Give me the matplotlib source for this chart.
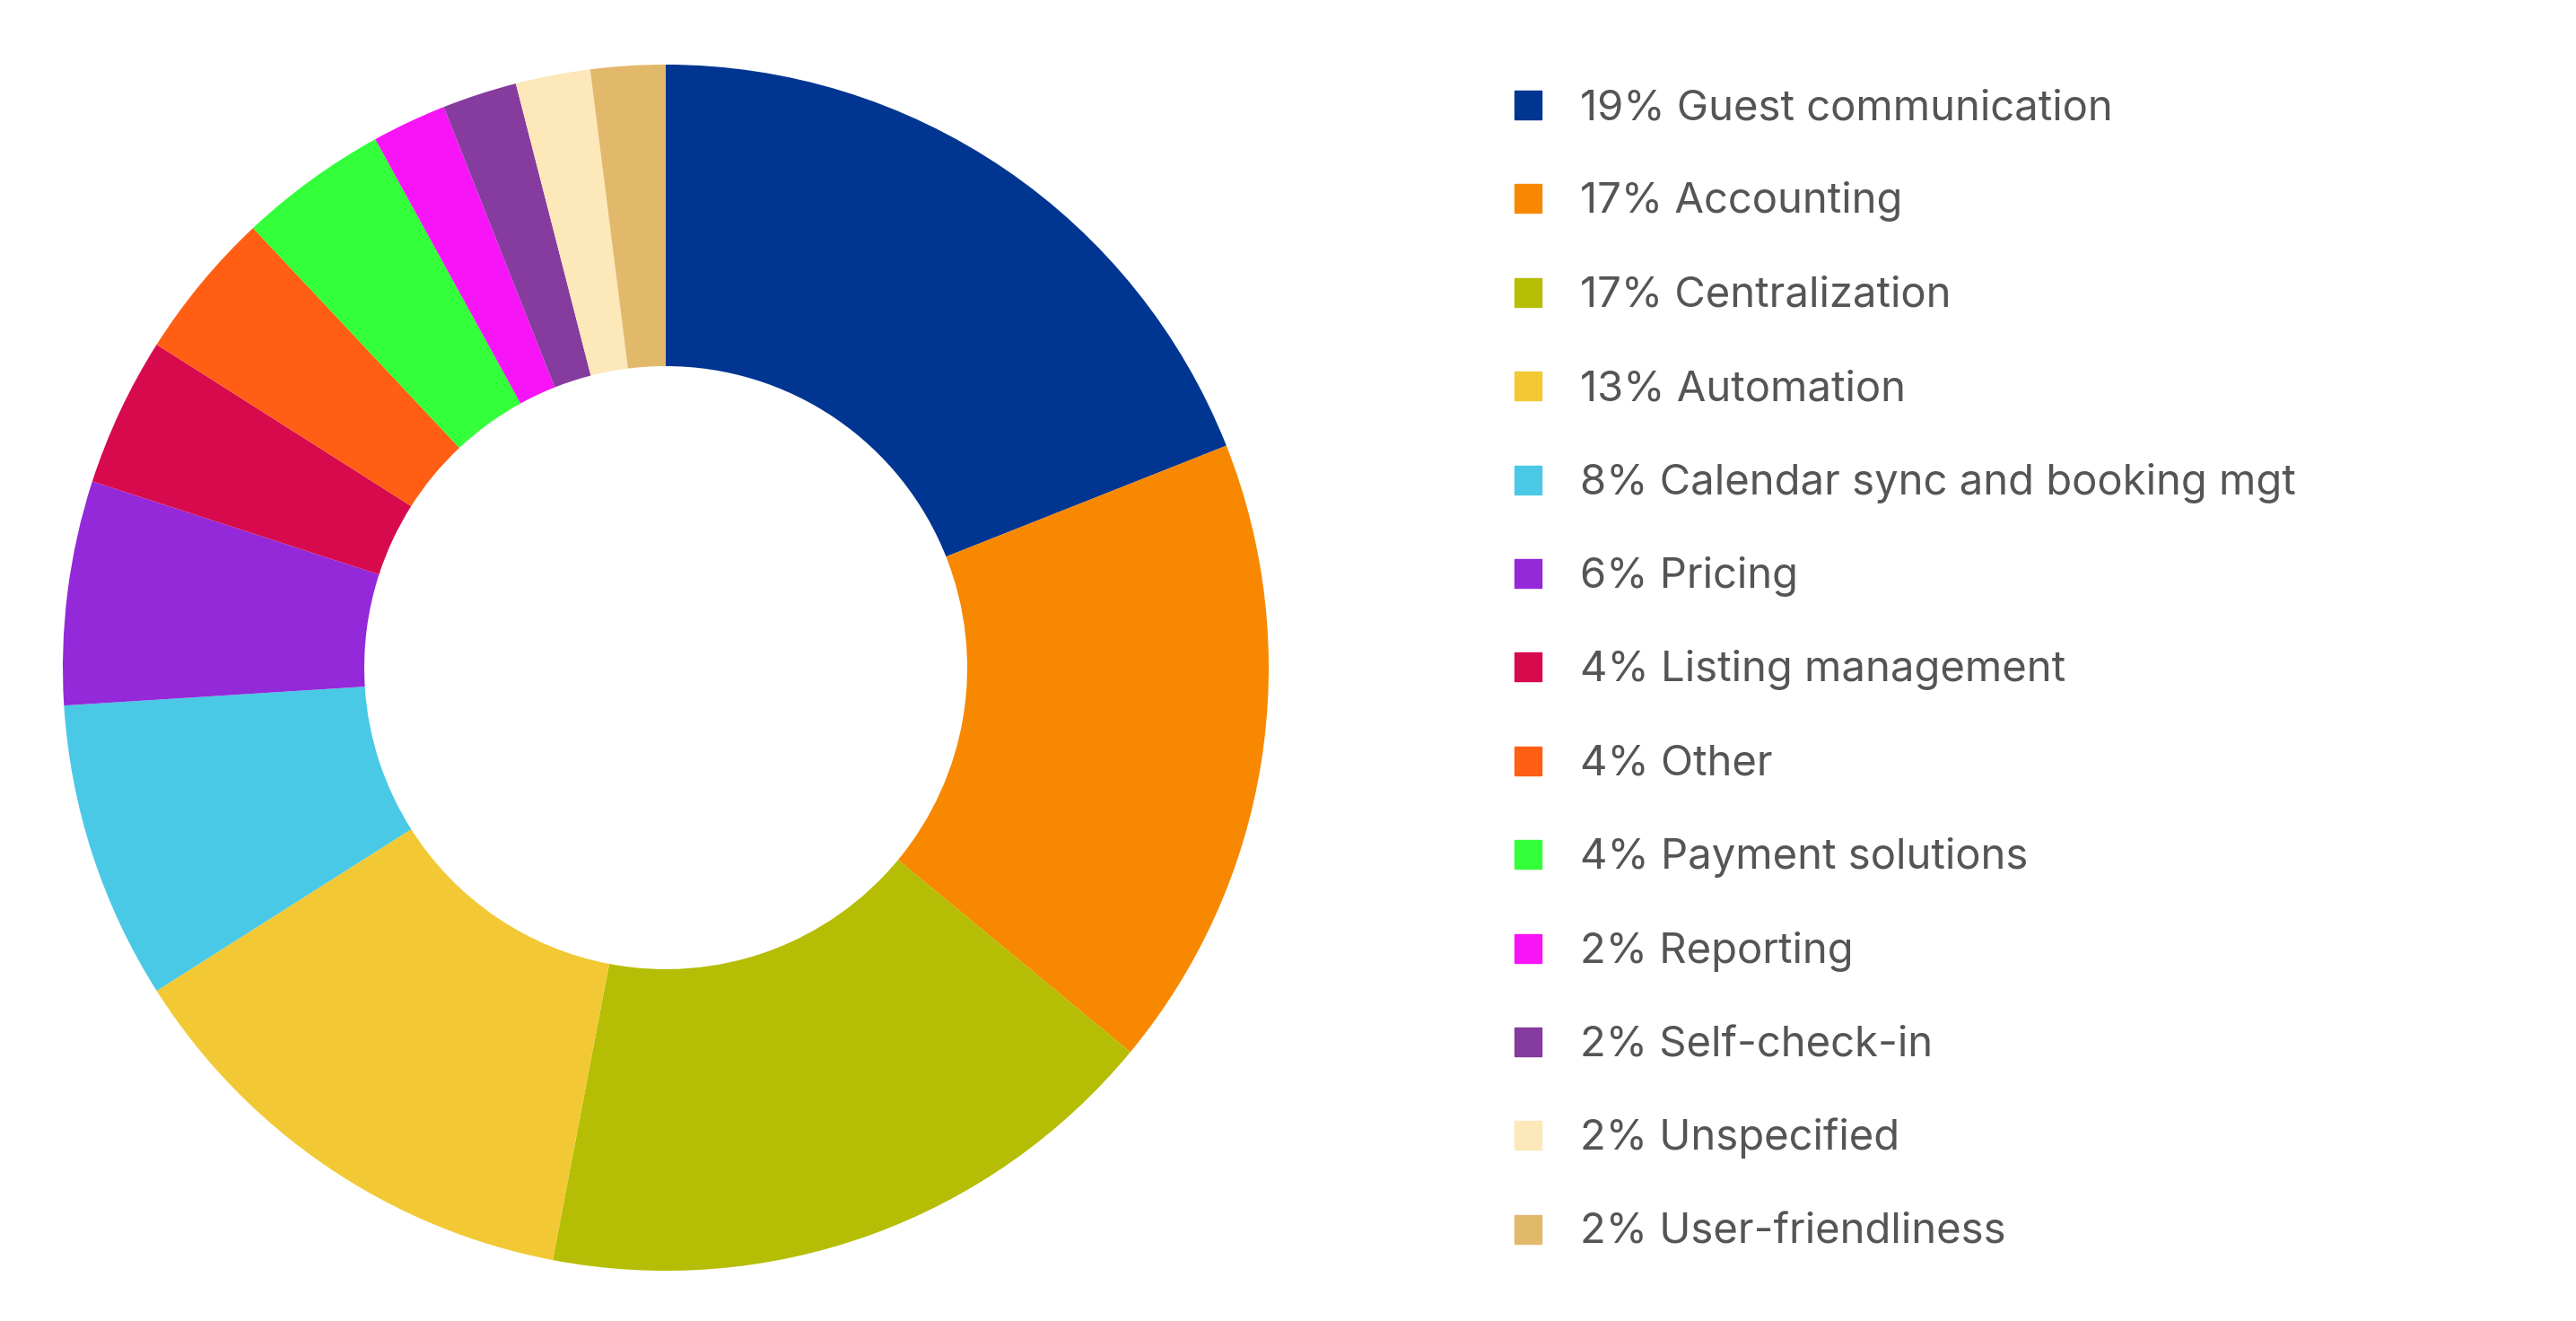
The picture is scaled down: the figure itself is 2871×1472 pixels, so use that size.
import matplotlib.pyplot as plt
from matplotlib.patches import Rectangle

labels = ["Guest communication", "Accounting", "Centralization", "Automation",
          "Calendar sync and booking mgt", "Pricing", "Listing management", "Other",
          "Payment solutions", "Reporting", "Self-check-in", "Unspecified",
          "User-friendliness"]
shares = [19, 17, 17, 13, 8, 6, 4, 4, 4, 2, 2, 2, 2]
colors = ["#003591", "#F78800", "#B5BD04", "#F2C935", "#4AC9E6", "#9329D9",
          "#D80A4E", "#FF5E14", "#33FF3A", "#F714F7", "#863B9E", "#FCE8B9",
          "#E2B86B"]

W, H = 2871, 1472
fig = plt.figure(figsize=(W / 100, H / 100), dpi=100)

# donut: centre (742, 744) px from top-left, outer radius 672 px
cx, cy, r = 742, 744, 672
ax = fig.add_axes([(cx - r) / W, (H - cy - r) / H, 2 * r / W, 2 * r / H])
ax.pie(shares, colors=colors, startangle=90, counterclock=False, radius=1,
       wedgeprops=dict(width=0.5, linewidth=0))
ax.set_xlim(-1, 1)
ax.set_ylim(-1, 1)
ax.set_aspect('equal')
ax.axis('off')

# legend drawn by hand
y0, dy = 117, 104.4
for i, (lab, val, c) in enumerate(zip(labels, shares, colors)):
    yc = y0 + i * dy
    fig.patches.append(Rectangle((1688 / W, (H - yc - 16) / H), 30 / W, 32 / H,
                                 transform=fig.transFigure, color=c))
    fig.text(1761 / W, (H - yc - 16) / H, f"{val}% {lab}", fontsize=34,
             family="Inter", color="#555555", va="baseline", ha="left")

fig.savefig("out.png", dpi=100)
